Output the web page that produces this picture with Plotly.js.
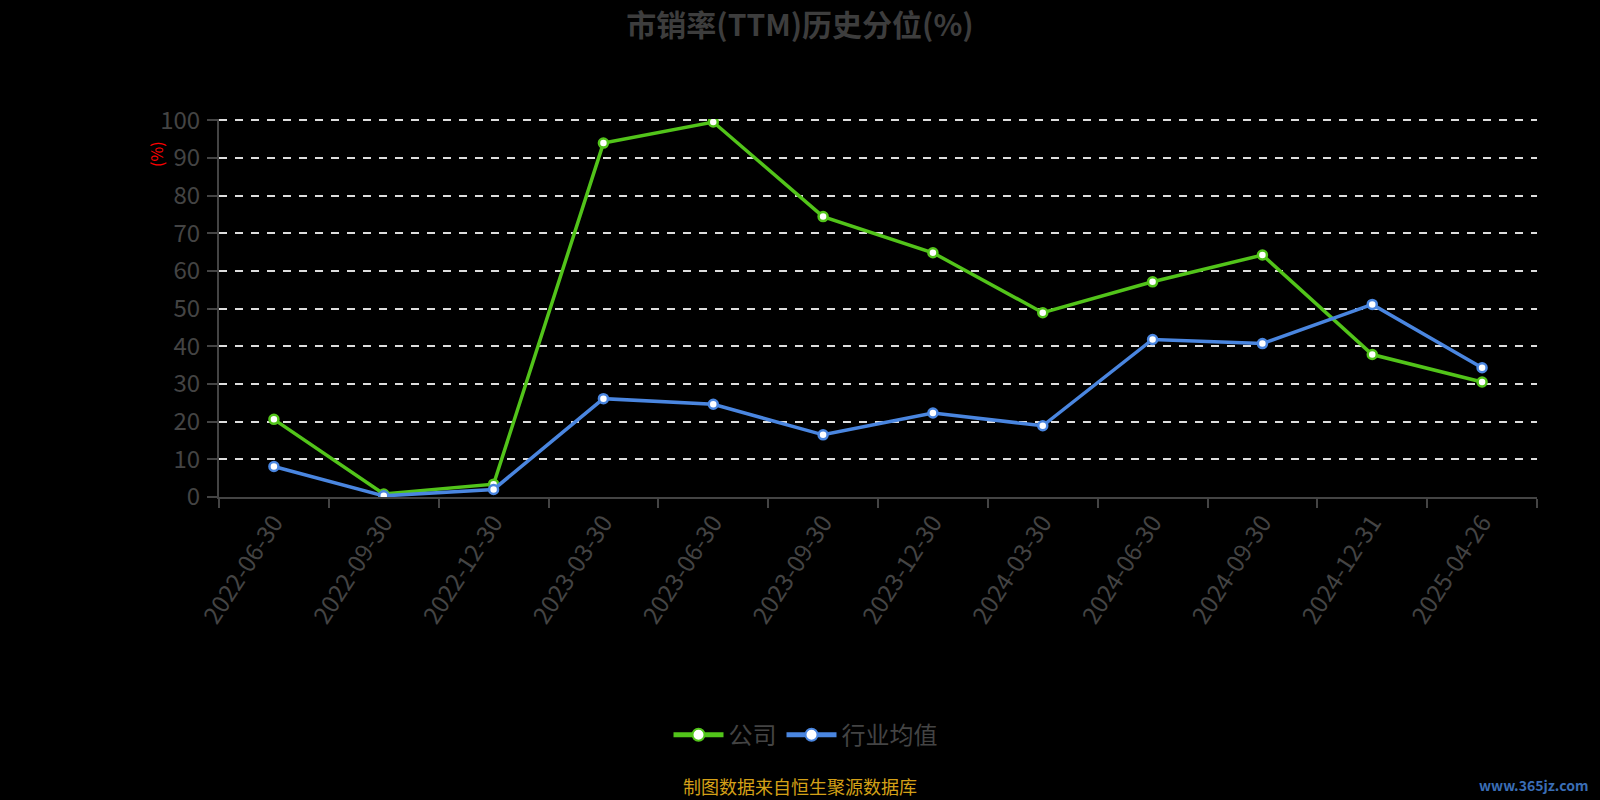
<!DOCTYPE html>
<html>
<head>
<meta charset="utf-8">
<script src="https://cdn.plot.ly/plotly-3.0.1.min.js"></script>
<style>html,body{margin:0;padding:0;background:#000;}#chart{width:1600px;height:800px;}</style>
</head>
<body>
<div id="chart"></div>
<script>
const categories = ["2022-06-30","2022-09-30","2022-12-30","2023-03-30","2023-06-30","2023-09-30","2023-12-30","2024-03-30","2024-06-30","2024-09-30","2024-12-31","2025-04-26"];
const companyValues = [20.6, 0.8, 3.4, 93.9, 99.5, 74.4, 64.8, 48.9, 57.1, 64.2, 37.8, 30.5];
const industryValues = [8.1, 0.3, 2.0, 26.1, 24.6, 16.5, 22.3, 18.9, 41.8, 40.7, 51.1, 34.3];
const seriesNames = ["公司", "行业均值"];
const yTicks = [0,10,20,30,40,50,60,70,80,90,100];

const FONT = '"Noto Sans CJK SC", "Noto Sans", sans-serif';
const GREEN = '#52c41a';
const BLUE = '#4a86e0';

const traces = [
  {
    x: categories, y: companyValues, name: seriesNames[0], type: 'scatter', mode: 'lines+markers',
    line: {color: GREEN, width: 3.5},
    marker: {size: 9, color: '#ffffff', line: {color: GREEN, width: 2.5}}
  },
  {
    x: categories, y: industryValues, name: seriesNames[1], type: 'scatter', mode: 'lines+markers',
    line: {color: BLUE, width: 3.5},
    marker: {size: 9, color: '#ffffff', line: {color: BLUE, width: 2.5}}
  }
];

const layout = {
  width: 1600, height: 800,
  paper_bgcolor: '#000000', plot_bgcolor: '#000000',
  margin: {l: 219, r: 63, t: 119, b: 303},
  font: {family: FONT, color: '#444444'},
  title: {
    text: '<b>市销率(TTM)历史分位(%)</b>',
    font: {family: FONT, size: 30, color: '#3d3d3d'},
    x: 0.5, xanchor: 'center', y: 0.968, yanchor: 'middle'
  },
  showlegend: true,
  legend: {
    orientation: 'h', x: 0.445, xanchor: 'center', y: -0.63, yanchor: 'middle',
    font: {family: FONT, size: 24, color: '#444444'},
    bgcolor: 'rgba(0,0,0,0)', itemsizing: 'constant', itemwidth: 50
  },
  xaxis: {
    type: 'category',
    tickson: 'boundaries',
    ticks: 'outside', ticklen: 9, tickwidth: 2, tickcolor: '#444444',
    showline: true, linecolor: '#444444', linewidth: 2,
    showgrid: false, zeroline: false,
    tickangle: -57,
    tickfont: {family: FONT, size: 24, color: '#444444'},
    range: [-0.5, 11.5]
  },
  yaxis: {
    range: [0, 100.3],
    tickvals: yTicks,
    ticks: 'outside', ticklen: 10, tickwidth: 2, tickcolor: '#444444',
    showline: true, linecolor: '#444444', linewidth: 2,
    showgrid: true, gridcolor: '#dddddd', gridwidth: 2, griddash: '8px,8px',
    zeroline: false,
    tickfont: {family: FONT, size: 24, color: '#444444'},
    ticklabelstandoff: 2
  },
  annotations: [
    {text: '(%)', xref: 'paper', yref: 'paper', x: -0.048, y: 0.907, textangle: -90,
     showarrow: false, font: {family: FONT, size: 16, color: '#ff0000'}, xanchor: 'center', yanchor: 'middle'},
    {text: '制图数据来自恒生聚源数据库', xref: 'paper', yref: 'paper', x: 0.441, y: -0.765,
     showarrow: false, font: {family: FONT, size: 18, color: '#d4a017'}, xanchor: 'center', yanchor: 'middle'},
    {text: '<b>www.365jz.com</b>', xref: 'paper', yref: 'paper', x: 1.04, y: -0.762,
     showarrow: false, font: {family: FONT, size: 14, color: '#3a6db5'}, xanchor: 'right', yanchor: 'middle'}
  ]
};

Plotly.newPlot('chart', traces, layout, {displayModeBar: false, staticPlot: true});
</script>
</body>
</html>
